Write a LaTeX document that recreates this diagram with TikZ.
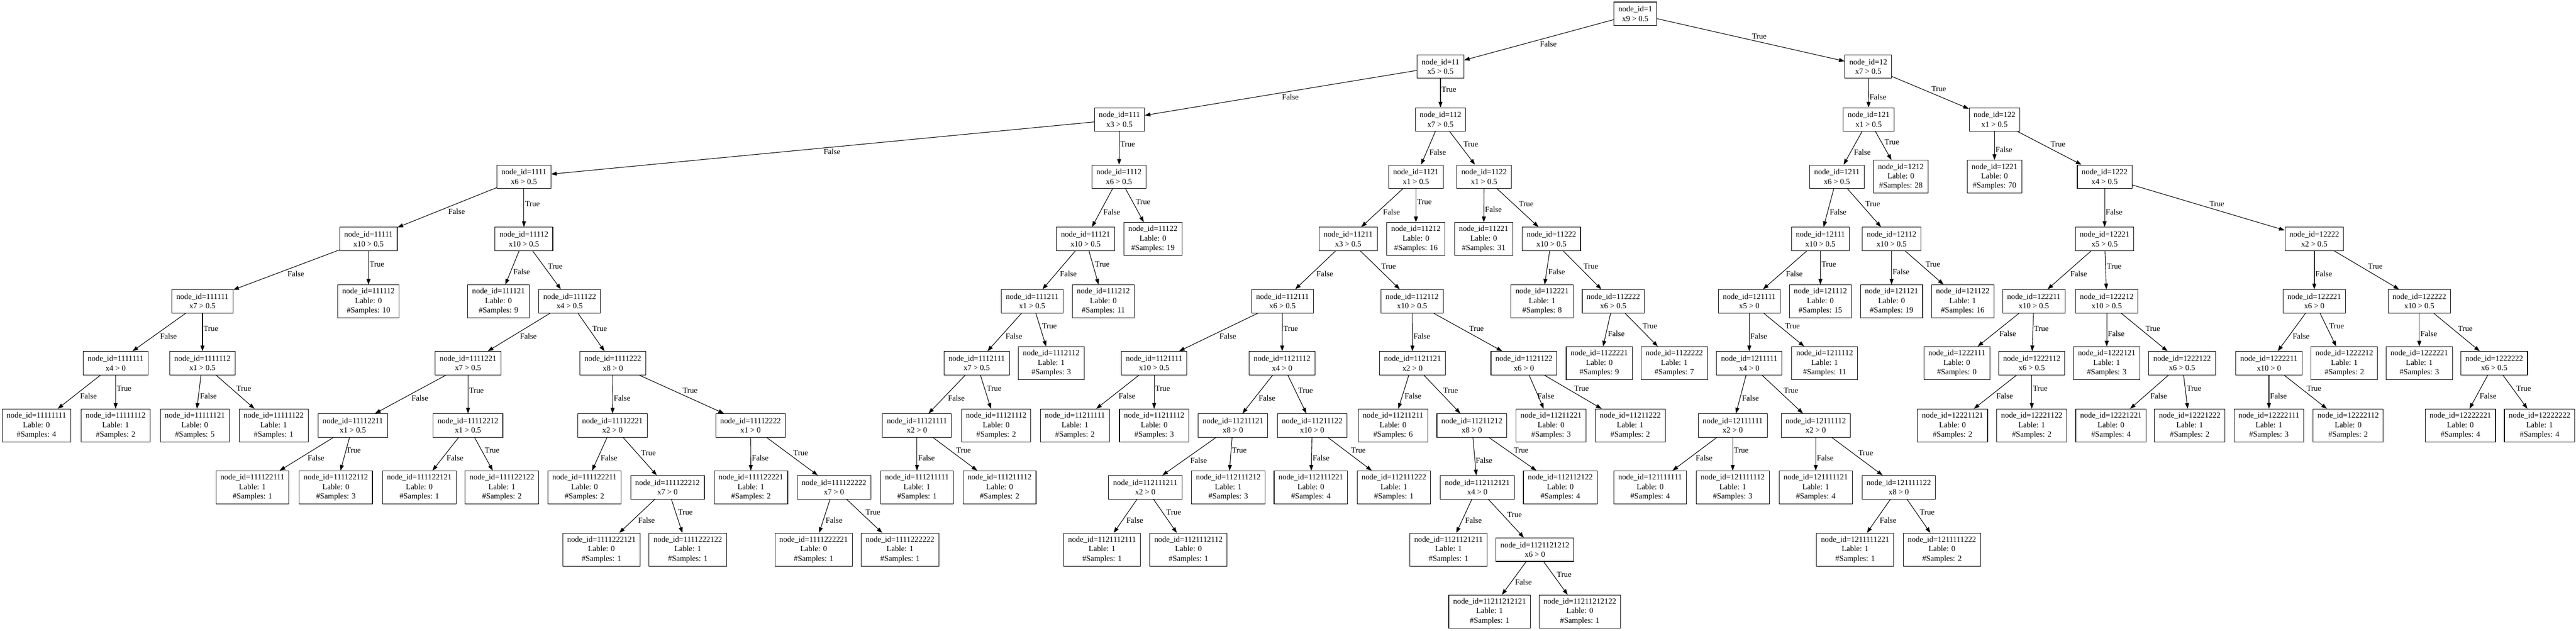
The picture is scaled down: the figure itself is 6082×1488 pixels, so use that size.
\documentclass[tikz,border=0pt]{standalone}
\usepackage{fontspec}
\setmainfont{Liberation Serif}
\usetikzlibrary{arrows.meta}
\newcommand{\treefont}{\fontsize{14pt}{16.8pt}\selectfont}

\begin{document}
\begin{tikzpicture}[x=0.75pt, y=-0.75pt, >={Triangle[length=10pt,width=7pt]},
                split/.style={rectangle, draw=black, line width=1pt, minimum height=41.5pt,
                              inner xsep=7.9pt, inner ysep=0pt, align=center, font=\treefont},
                leaf/.style={split, minimum height=58.3pt},
                fl/.style={midway, anchor=north west, inner sep=1.5pt, font=\treefont},
                tl/.style={midway, anchor=south west, inner sep=1.5pt, font=\treefont},
                every edge/.style={draw, line width=1pt}]

                \useasboundingbox (0,0) rectangle (6082,1488);

                % rank 0 and 1
                \node[split] (n1) at (3861,32.5) {node\_id=1\\x9 > 0.5};
                \node[split] (n11) at (3401,157) {node\_id=11\\x5 > 0.5};
                \node[split] (n12) at (4411,157) {node\_id=12\\x7 > 0.5};

                % rank 2
                \node[split] (n111) at (2643,282) {node\_id=111\\x3 > 0.5};
                \node[split] (n112) at (3401,282) {node\_id=112\\x7 > 0.5};
                \node[split] (n121) at (4412,282) {node\_id=121\\x1 > 0.5};
                \node[split] (n122) at (4709,282) {node\_id=122\\x1 > 0.5};

                % rank 3
                \node[split] (n1111) at (1237,417) {node\_id=1111\\x6 > 0.5};
                \node[split] (n1112) at (2642,417) {node\_id=1112\\x6 > 0.5};
                \node[split] (n1121) at (3343,417) {node\_id=1121\\x1 > 0.5};
                \node[split] (n1122) at (3504,417) {node\_id=1122\\x1 > 0.5};
                \node[split] (n1211) at (4337,417) {node\_id=1211\\x6 > 0.5};
                \node[leaf] (n1212) at (4488,417) {node\_id=1212\\Lable: 0\\\#Samples: 28};
                \node[leaf] (n1221) at (4709,417) {node\_id=1221\\Lable: 0\\\#Samples: 70};
                \node[split] (n1222) at (4969,417) {node\_id=1222\\x4 > 0.5};

                % rank 4
                \node[split] (n11111) at (870,564) {node\_id=11111\\x10 > 0.5};
                \node[split] (n11112) at (1237,564) {node\_id=11112\\x10 > 0.5};
                \node[split] (n11121) at (2563,564) {node\_id=11121\\x10 > 0.5};
                \node[leaf] (n11122) at (2722,564) {node\_id=11122\\Lable: 0\\\#Samples: 19};
                \node[split] (n11211) at (3183,564) {node\_id=11211\\x3 > 0.5};
                \node[leaf] (n11212) at (3343,564) {node\_id=11212\\Lable: 0\\\#Samples: 16};
                \node[leaf] (n11221) at (3503,564) {node\_id=11221\\Lable: 0\\\#Samples: 31};
                \node[split] (n11222) at (3663,564) {node\_id=11222\\x10 > 0.5};
                \node[split] (n12111) at (4298,564) {node\_id=12111\\x10 > 0.5};
                \node[split] (n12112) at (4466,564) {node\_id=12112\\x10 > 0.5};
                \node[split] (n12221) at (4969,564) {node\_id=12221\\x5 > 0.5};
                \node[split] (n12222) at (5464,564) {node\_id=12222\\x2 > 0.5};

                % rank 5
                \node[split] (n111111) at (478,711) {node\_id=111111\\x7 > 0.5};
                \node[leaf] (n111112) at (870,711) {node\_id=111112\\Lable: 0\\\#Samples: 10};
                \node[leaf] (n111121) at (1177,711) {node\_id=111121\\Lable: 0\\\#Samples: 9};
                \node[split] (n111122) at (1345,711) {node\_id=111122\\x4 > 0.5};
                \node[split] (n111211) at (2437,711) {node\_id=111211\\x1 > 0.5};
                \node[leaf] (n111212) at (2605,711) {node\_id=111212\\Lable: 0\\\#Samples: 11};
                \node[split] (n112111) at (3028,711) {node\_id=112111\\x6 > 0.5};
                \node[split] (n112112) at (3334,711) {node\_id=112112\\x10 > 0.5};
                \node[leaf] (n112221) at (3641,711) {node\_id=112221\\Lable: 1\\\#Samples: 8};
                \node[split] (n112222) at (3809,711) {node\_id=112222\\x6 > 0.5};
                \node[split] (n121111) at (4130,711) {node\_id=121111\\x5 > 0};
                \node[leaf] (n121112) at (4298,711) {node\_id=121112\\Lable: 0\\\#Samples: 15};
                \node[leaf] (n121121) at (4466,711) {node\_id=121121\\Lable: 0\\\#Samples: 19};
                \node[leaf] (n121122) at (4634,711) {node\_id=121122\\Lable: 1\\\#Samples: 16};
                \node[split] (n122211) at (4802,711) {node\_id=122211\\x10 > 0.5};
                \node[split] (n122212) at (4974,711) {node\_id=122212\\x10 > 0.5};
                \node[split] (n122221) at (5464,711) {node\_id=122221\\x6 > 0};
                \node[split] (n122222) at (5712,711) {node\_id=122222\\x10 > 0.5};

                % rank 6
                \node[split] (n1111111) at (273,857) {node\_id=1111111\\x4 > 0};
                \node[split] (n1111112) at (478,857) {node\_id=1111112\\x1 > 0.5};
                \node[split] (n1111221) at (1105,857) {node\_id=1111221\\x7 > 0.5};
                \node[split] (n1111222) at (1447,857) {node\_id=1111222\\x8 > 0};
                \node[split] (n1112111) at (2306,857) {node\_id=1112111\\x7 > 0.5};
                \node[leaf] (n1112112) at (2482,857) {node\_id=1112112\\Lable: 1\\\#Samples: 3};
                \node[split] (n1121111) at (2725,857) {node\_id=1121111\\x10 > 0.5};
                \node[split] (n1121112) at (3027,857) {node\_id=1121112\\x4 > 0};
                \node[split] (n1121121) at (3335,857) {node\_id=1121121\\x2 > 0};
                \node[split] (n1121122) at (3598,857) {node\_id=1121122\\x6 > 0};
                \node[leaf] (n1122221) at (3776,857) {node\_id=1122221\\Lable: 0\\\#Samples: 9};
                \node[leaf] (n1122222) at (3953,857) {node\_id=1122222\\Lable: 1\\\#Samples: 7};
                \node[split] (n1211111) at (4130,857) {node\_id=1211111\\x4 > 0};
                \node[leaf] (n1211112) at (4308,857) {node\_id=1211112\\Lable: 1\\\#Samples: 11};
                \node[leaf] (n1222111) at (4620,857) {node\_id=1222111\\Lable: 0\\\#Samples: 0};
                \node[split] (n1222112) at (4797,857) {node\_id=1222112\\x6 > 0.5};
                \node[leaf] (n1222121) at (4974,857) {node\_id=1222121\\Lable: 1\\\#Samples: 3};
                \node[split] (n1222122) at (5152,857) {node\_id=1222122\\x6 > 0.5};
                \node[split] (n1222211) at (5357,857) {node\_id=1222211\\x10 > 0};
                \node[leaf] (n1222212) at (5535,857) {node\_id=1222212\\Lable: 1\\\#Samples: 2};
                \node[leaf] (n1222221) at (5712,857) {node\_id=1222221\\Lable: 1\\\#Samples: 3};
                \node[split] (n1222222) at (5889,857) {node\_id=1222222\\x6 > 0.5};

                % rank 7
                \node[leaf] (n11111111) at (86,1004) {node\_id=11111111\\Lable: 0\\\#Samples: 4};
                \node[leaf] (n11111112) at (273,1004) {node\_id=11111112\\Lable: 1\\\#Samples: 2};
                \node[leaf] (n11111121) at (460,1004) {node\_id=11111121\\Lable: 0\\\#Samples: 5};
                \node[leaf] (n11111122) at (646,1004) {node\_id=11111122\\Lable: 1\\\#Samples: 1};
                \node[split] (n11112211) at (833,1004) {node\_id=11112211\\x1 > 0.5};
                \node[split] (n11112212) at (1105,1004) {node\_id=11112212\\x1 > 0.5};
                \node[split] (n11112221) at (1446,1004) {node\_id=11112221\\x2 > 0};
                \node[split] (n11112222) at (1772,1004) {node\_id=11112222\\x1 > 0};
                \node[split] (n11121111) at (2165,1004) {node\_id=11121111\\x2 > 0};
                \node[leaf] (n11121112) at (2352,1004) {node\_id=11121112\\Lable: 0\\\#Samples: 2};
                \node[leaf] (n11211111) at (2538,1004) {node\_id=11211111\\Lable: 1\\\#Samples: 2};
                \node[leaf] (n11211112) at (2725,1004) {node\_id=11211112\\Lable: 0\\\#Samples: 3};
                \node[split] (n11211121) at (2911,1004) {node\_id=11211121\\x8 > 0};
                \node[split] (n11211122) at (3098,1004) {node\_id=11211122\\x10 > 0};
                \node[leaf] (n11211211) at (3289,1004) {node\_id=11211211\\Lable: 0\\\#Samples: 6};
                \node[split] (n11211212) at (3475,1004) {node\_id=11211212\\x8 > 0};
                \node[leaf] (n11211221) at (3662,1004) {node\_id=11211221\\Lable: 0\\\#Samples: 3};
                \node[leaf] (n11211222) at (3849,1004) {node\_id=11211222\\Lable: 1\\\#Samples: 2};
                \node[split] (n12111111) at (4091,1004) {node\_id=12111111\\x2 > 0};
                \node[split] (n12111112) at (4287,1004) {node\_id=12111112\\x2 > 0};
                \node[leaf] (n12221121) at (4610,1004) {node\_id=12221121\\Lable: 0\\\#Samples: 2};
                \node[leaf] (n12221122) at (4797,1004) {node\_id=12221122\\Lable: 1\\\#Samples: 2};
                \node[leaf] (n12221221) at (4984,1004) {node\_id=12221221\\Lable: 0\\\#Samples: 4};
                \node[leaf] (n12221222) at (5170,1004) {node\_id=12221222\\Lable: 1\\\#Samples: 2};
                \node[leaf] (n12222111) at (5357,1004) {node\_id=12222111\\Lable: 1\\\#Samples: 3};
                \node[leaf] (n12222112) at (5544,1004) {node\_id=12222112\\Lable: 0\\\#Samples: 2};
                \node[leaf] (n12222221) at (5809,1004) {node\_id=12222221\\Lable: 0\\\#Samples: 4};
                \node[leaf] (n12222222) at (5996,1004) {node\_id=12222222\\Lable: 1\\\#Samples: 4};

                % rank 8
                \node[leaf] (n111122111) at (596,1150) {node\_id=111122111\\Lable: 1\\\#Samples: 1};
                \node[leaf] (n111122112) at (793,1150) {node\_id=111122112\\Lable: 0\\\#Samples: 3};
                \node[leaf] (n111122121) at (990,1150) {node\_id=111122121\\Lable: 0\\\#Samples: 1};
                \node[leaf] (n111122122) at (1185,1150) {node\_id=111122122\\Lable: 1\\\#Samples: 2};
                \node[leaf] (n111122211) at (1380,1150) {node\_id=111122211\\Lable: 0\\\#Samples: 2};
                \node[split] (n111122212) at (1576,1150) {node\_id=111122212\\x7 > 0};
                \node[leaf] (n111122221) at (1773,1150) {node\_id=111122221\\Lable: 1\\\#Samples: 2};
                \node[split] (n111122222) at (1969,1150) {node\_id=111122222\\x7 > 0};
                \node[leaf] (n111211111) at (2165,1150) {node\_id=111211111\\Lable: 1\\\#Samples: 1};
                \node[leaf] (n111211112) at (2360,1150) {node\_id=111211112\\Lable: 0\\\#Samples: 2};
                \node[split] (n112111211) at (2704,1150) {node\_id=112111211\\x2 > 0};
                \node[leaf] (n112111212) at (2900,1150) {node\_id=112111212\\Lable: 1\\\#Samples: 3};
                \node[leaf] (n112111221) at (3095,1150) {node\_id=112111221\\Lable: 0\\\#Samples: 4};
                \node[leaf] (n112111222) at (3291,1150) {node\_id=112111222\\Lable: 1\\\#Samples: 1};
                \node[split] (n112112121) at (3488,1150) {node\_id=112112121\\x4 > 0};
                \node[leaf] (n112112122) at (3684,1150) {node\_id=112112122\\Lable: 0\\\#Samples: 4};
                \node[leaf] (n121111111) at (3896,1150) {node\_id=121111111\\Lable: 0\\\#Samples: 4};
                \node[leaf] (n121111112) at (4091,1150) {node\_id=121111112\\Lable: 1\\\#Samples: 3};
                \node[leaf] (n121111121) at (4287,1150) {node\_id=121111121\\Lable: 1\\\#Samples: 4};
                \node[split] (n121111122) at (4483,1150) {node\_id=121111122\\x8 > 0};

                % rank 9 and 10
                \node[leaf] (n1111222121) at (1420,1297) {node\_id=1111222121\\Lable: 0\\\#Samples: 1};
                \node[leaf] (n1111222122) at (1624,1297) {node\_id=1111222122\\Lable: 1\\\#Samples: 1};
                \node[leaf] (n1111222221) at (1921,1297) {node\_id=1111222221\\Lable: 0\\\#Samples: 1};
                \node[leaf] (n1111222222) at (2125,1297) {node\_id=1111222222\\Lable: 1\\\#Samples: 1};
                \node[leaf] (n1121112111) at (2602,1297) {node\_id=1121112111\\Lable: 1\\\#Samples: 1};
                \node[leaf] (n1121112112) at (2806,1297) {node\_id=1121112112\\Lable: 0\\\#Samples: 1};
                \node[leaf] (n1121121211) at (3420,1297) {node\_id=1121121211\\Lable: 1\\\#Samples: 1};
                \node[split] (n1121121212) at (3624,1297) {node\_id=1121121212\\x6 > 0};
                \node[leaf] (n1211111221) at (4380,1297) {node\_id=1211111221\\Lable: 1\\\#Samples: 1};
                \node[leaf] (n1211111222) at (4585,1297) {node\_id=1211111222\\Lable: 0\\\#Samples: 2};
                \node[leaf] (n11211212121) at (3517,1443) {node\_id=11211212121\\Lable: 1\\\#Samples: 1};
                \node[leaf] (n11211212122) at (3730,1443) {node\_id=11211212122\\Lable: 0\\\#Samples: 1};

                % edges
                \path [->](n1) edge node[fl] {False} (n11);
                \path [->](n1) edge node[tl] {True} (n12);
                \path [->](n11) edge node[fl] {False} (n111);
                \path [->](n11) edge node[tl] {True} (n112);
                \path [->](n12) edge node[fl] {False} (n121);
                \path [->](n12) edge node[tl] {True} (n122);
                \path [->](n111) edge node[fl] {False} (n1111);
                \path [->](n111) edge node[tl] {True} (n1112);
                \path [->](n112) edge node[fl] {False} (n1121);
                \path [->](n112) edge node[tl] {True} (n1122);
                \path [->](n121) edge node[fl] {False} (n1211);
                \path [->](n121) edge node[tl] {True} (n1212);
                \path [->](n122) edge node[fl] {False} (n1221);
                \path [->](n122) edge node[tl] {True} (n1222);
                \path [->](n1111) edge node[fl] {False} (n11111);
                \path [->](n1111) edge node[tl] {True} (n11112);
                \path [->](n1112) edge node[fl] {False} (n11121);
                \path [->](n1112) edge node[tl] {True} (n11122);
                \path [->](n1121) edge node[fl] {False} (n11211);
                \path [->](n1121) edge node[tl] {True} (n11212);
                \path [->](n1122) edge node[fl] {False} (n11221);
                \path [->](n1122) edge node[tl] {True} (n11222);
                \path [->](n1211) edge node[fl] {False} (n12111);
                \path [->](n1211) edge node[tl] {True} (n12112);
                \path [->](n1222) edge node[fl] {False} (n12221);
                \path [->](n1222) edge node[tl] {True} (n12222);
                \path [->](n11111) edge node[fl] {False} (n111111);
                \path [->](n11111) edge node[tl] {True} (n111112);
                \path [->](n11112) edge node[fl] {False} (n111121);
                \path [->](n11112) edge node[tl] {True} (n111122);
                \path [->](n11121) edge node[fl] {False} (n111211);
                \path [->](n11121) edge node[tl] {True} (n111212);
                \path [->](n11211) edge node[fl] {False} (n112111);
                \path [->](n11211) edge node[tl] {True} (n112112);
                \path [->](n11222) edge node[fl] {False} (n112221);
                \path [->](n11222) edge node[tl] {True} (n112222);
                \path [->](n12111) edge node[fl] {False} (n121111);
                \path [->](n12111) edge node[tl] {True} (n121112);
                \path [->](n12112) edge node[fl] {False} (n121121);
                \path [->](n12112) edge node[tl] {True} (n121122);
                \path [->](n12221) edge node[fl] {False} (n122211);
                \path [->](n12221) edge node[tl] {True} (n122212);
                \path [->](n12222) edge node[fl] {False} (n122221);
                \path [->](n12222) edge node[tl] {True} (n122222);
                \path [->](n111111) edge node[fl] {False} (n1111111);
                \path [->](n111111) edge node[tl] {True} (n1111112);
                \path [->](n111122) edge node[fl] {False} (n1111221);
                \path [->](n111122) edge node[tl] {True} (n1111222);
                \path [->](n111211) edge node[fl] {False} (n1112111);
                \path [->](n111211) edge node[tl] {True} (n1112112);
                \path [->](n112111) edge node[fl] {False} (n1121111);
                \path [->](n112111) edge node[tl] {True} (n1121112);
                \path [->](n112112) edge node[fl] {False} (n1121121);
                \path [->](n112112) edge node[tl] {True} (n1121122);
                \path [->](n112222) edge node[fl] {False} (n1122221);
                \path [->](n112222) edge node[tl] {True} (n1122222);
                \path [->](n121111) edge node[fl] {False} (n1211111);
                \path [->](n121111) edge node[tl] {True} (n1211112);
                \path [->](n122211) edge node[fl] {False} (n1222111);
                \path [->](n122211) edge node[tl] {True} (n1222112);
                \path [->](n122212) edge node[fl] {False} (n1222121);
                \path [->](n122212) edge node[tl] {True} (n1222122);
                \path [->](n122221) edge node[fl] {False} (n1222211);
                \path [->](n122221) edge node[tl] {True} (n1222212);
                \path [->](n122222) edge node[fl] {False} (n1222221);
                \path [->](n122222) edge node[tl] {True} (n1222222);
                \path [->](n1111111) edge node[fl] {False} (n11111111);
                \path [->](n1111111) edge node[tl] {True} (n11111112);
                \path [->](n1111112) edge node[fl] {False} (n11111121);
                \path [->](n1111112) edge node[tl] {True} (n11111122);
                \path [->](n1111221) edge node[fl] {False} (n11112211);
                \path [->](n1111221) edge node[tl] {True} (n11112212);
                \path [->](n1111222) edge node[fl] {False} (n11112221);
                \path [->](n1111222) edge node[tl] {True} (n11112222);
                \path [->](n1112111) edge node[fl] {False} (n11121111);
                \path [->](n1112111) edge node[tl] {True} (n11121112);
                \path [->](n1121111) edge node[fl] {False} (n11211111);
                \path [->](n1121111) edge node[tl] {True} (n11211112);
                \path [->](n1121112) edge node[fl] {False} (n11211121);
                \path [->](n1121112) edge node[tl] {True} (n11211122);
                \path [->](n1121121) edge node[fl] {False} (n11211211);
                \path [->](n1121121) edge node[tl] {True} (n11211212);
                \path [->](n1121122) edge node[fl] {False} (n11211221);
                \path [->](n1121122) edge node[tl] {True} (n11211222);
                \path [->](n1211111) edge node[fl] {False} (n12111111);
                \path [->](n1211111) edge node[tl] {True} (n12111112);
                \path [->](n1222112) edge node[fl] {False} (n12221121);
                \path [->](n1222112) edge node[tl] {True} (n12221122);
                \path [->](n1222122) edge node[fl] {False} (n12221221);
                \path [->](n1222122) edge node[tl] {True} (n12221222);
                \path [->](n1222211) edge node[fl] {False} (n12222111);
                \path [->](n1222211) edge node[tl] {True} (n12222112);
                \path [->](n1222222) edge node[fl] {False} (n12222221);
                \path [->](n1222222) edge node[tl] {True} (n12222222);
                \path [->](n11112211) edge node[fl] {False} (n111122111);
                \path [->](n11112211) edge node[tl] {True} (n111122112);
                \path [->](n11112212) edge node[fl] {False} (n111122121);
                \path [->](n11112212) edge node[tl] {True} (n111122122);
                \path [->](n11112221) edge node[fl] {False} (n111122211);
                \path [->](n11112221) edge node[tl] {True} (n111122212);
                \path [->](n11112222) edge node[fl] {False} (n111122221);
                \path [->](n11112222) edge node[tl] {True} (n111122222);
                \path [->](n11121111) edge node[fl] {False} (n111211111);
                \path [->](n11121111) edge node[tl] {True} (n111211112);
                \path [->](n11211121) edge node[fl] {False} (n112111211);
                \path [->](n11211121) edge node[tl] {True} (n112111212);
                \path [->](n11211122) edge node[fl] {False} (n112111221);
                \path [->](n11211122) edge node[tl] {True} (n112111222);
                \path [->](n11211212) edge node[fl] {False} (n112112121);
                \path [->](n11211212) edge node[tl] {True} (n112112122);
                \path [->](n12111111) edge node[fl] {False} (n121111111);
                \path [->](n12111111) edge node[tl] {True} (n121111112);
                \path [->](n12111112) edge node[fl] {False} (n121111121);
                \path [->](n12111112) edge node[tl] {True} (n121111122);
                \path [->](n111122212) edge node[fl] {False} (n1111222121);
                \path [->](n111122212) edge node[tl] {True} (n1111222122);
                \path [->](n111122222) edge node[fl] {False} (n1111222221);
                \path [->](n111122222) edge node[tl] {True} (n1111222222);
                \path [->](n112111211) edge node[fl] {False} (n1121112111);
                \path [->](n112111211) edge node[tl] {True} (n1121112112);
                \path [->](n112112121) edge node[fl] {False} (n1121121211);
                \path [->](n112112121) edge node[tl] {True} (n1121121212);
                \path [->](n121111122) edge node[fl] {False} (n1211111221);
                \path [->](n121111122) edge node[tl] {True} (n1211111222);
                \path [->](n1121121212) edge node[fl] {False} (n11211212121);
                \path [->](n1121121212) edge node[tl] {True} (n11211212122);
            \end{tikzpicture}
\end{document}
